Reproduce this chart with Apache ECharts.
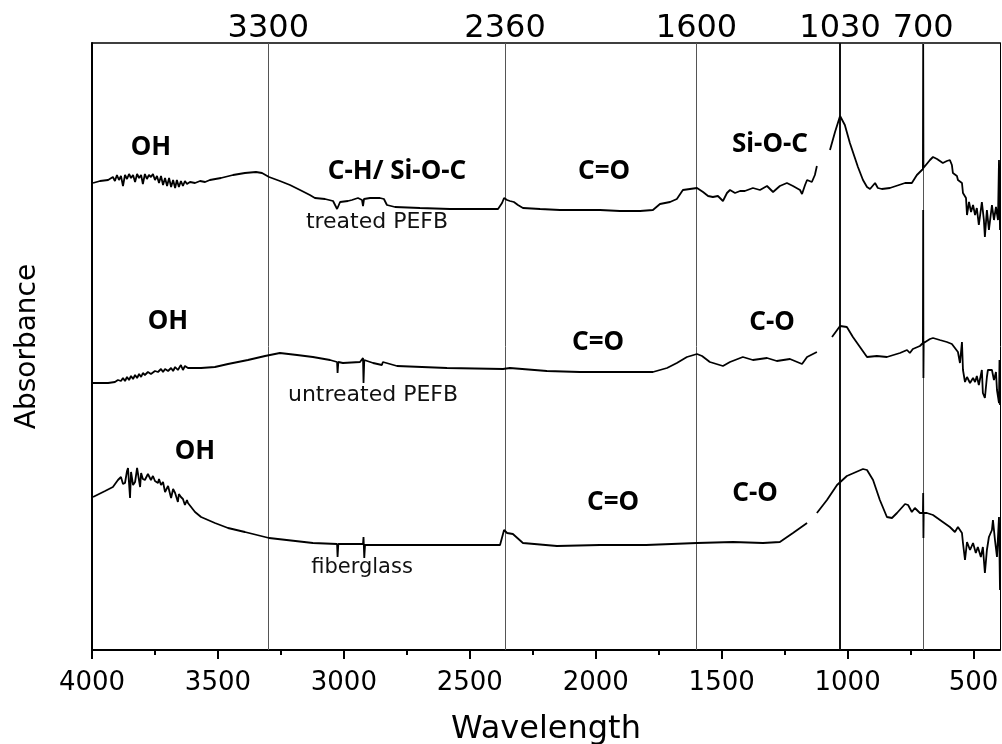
<!DOCTYPE html>
<html>
<head>
<meta charset="utf-8">
<script src="https://cdn.jsdelivr.net/npm/echarts@6/dist/echarts.min.js"></script>
<style>
  html, body { margin: 0; padding: 0; background: #fff; }
  #chart { width: 1002px; height: 744px; }
</style>
</head>
<body>
<div id="chart"></div>
<script>
// wavenumber (cm-1), absorbance (a.u., offset per sample)
const treatedData = [
  [3996,4.67],[3968,4.69],[3936,4.70],[3917,4.73],[3909,4.69],[3901,4.75],[3893,4.70],[3885,4.74],
  [3877,4.64],[3869,4.75],[3861,4.71],[3853,4.76],[3845,4.72],[3837,4.75],[3829,4.68],[3821,4.76],
  [3813,4.72],[3805,4.75],[3798,4.66],[3790,4.76],[3782,4.71],[3774,4.75],[3766,4.73],[3758,4.76],
  [3750,4.70],[3742,4.74],[3734,4.67],[3726,4.74],[3718,4.65],[3710,4.72],[3702,4.64],[3694,4.72],
  [3686,4.63],[3678,4.70],[3670,4.62],[3663,4.70],[3655,4.63],[3647,4.69],[3639,4.64],[3631,4.69],
  [3623,4.66],[3611,4.68],[3591,4.67],[3571,4.69],[3551,4.68],[3532,4.70],[3488,4.72],[3440,4.75],
  [3393,4.77],[3349,4.78],[3325,4.77],[3297,4.73],[3254,4.69],[3214,4.65],[3174,4.60],[3135,4.55],
  [3115,4.52],[3075,4.51],[3043,4.49],[3027,4.41],[3015,4.48],[2984,4.49],[2968,4.50],[2944,4.52],
  [2928,4.50],[2924,4.44],[2920,4.51],[2896,4.52],[2857,4.52],[2841,4.51],[2829,4.45],[2797,4.43],
  [2698,4.42],[2579,4.41],[2460,4.41],[2388,4.41],[2372,4.47],[2364,4.52],[2352,4.50],[2341,4.49],
  [2325,4.48],[2309,4.45],[2289,4.42],[2221,4.41],[2142,4.40],[2063,4.40],[1983,4.40],[1904,4.39],
  [1824,4.39],[1773,4.40],[1745,4.46],[1705,4.48],[1678,4.51],[1654,4.60],[1626,4.61],[1598,4.62],
  [1574,4.58],[1554,4.54],[1535,4.53],[1515,4.54],[1495,4.49],[1479,4.57],[1467,4.60],[1447,4.57],
  [1427,4.59],[1408,4.59],[1376,4.62],[1348,4.60],[1320,4.64],[1296,4.58],[1269,4.64],[1241,4.67],
  [1217,4.64],[1189,4.60],[1181,4.56],[1169,4.65],[1161,4.70],[1142,4.68],[1130,4.75],[1122,4.84],
  [1096,null],
  [1070,5.00],[1050,5.18],[1030,5.34],[1011,5.25],[991,5.07],[971,4.92],[959,4.83],[939,4.70],
  [923,4.63],[911,4.61],[891,4.67],[880,4.62],[864,4.61],[832,4.62],[772,4.67],[745,4.67],
  [725,4.75],[701,4.81],[700,6.06],[699,4.82],[693,4.83],[673,4.90],[661,4.93],[645,4.91],
  [622,4.87],[606,4.89],[594,4.90],[586,4.85],[582,4.77],[566,4.74],[562,4.70],[546,4.67],
  [542,4.57],[530,4.52],[526,4.35],[518,4.48],[510,4.38],[502,4.45],[494,4.35],[487,4.42],
  [479,4.25],[467,4.48],[459,4.30],[455,4.13],[447,4.40],[439,4.20],[427,4.45],[419,4.30],
  [411,4.43],[403,4.30],[399,4.90],[395,4.20]
];

const untreatedData = [
  [3996,2.67],[3936,2.67],[3909,2.68],[3897,2.70],[3885,2.69],[3877,2.72],[3869,2.69],[3861,2.73],
  [3853,2.70],[3845,2.74],[3837,2.71],[3829,2.75],[3821,2.72],[3813,2.76],[3805,2.73],[3798,2.77],
  [3790,2.75],[3778,2.78],[3766,2.76],[3750,2.79],[3738,2.78],[3726,2.81],[3718,2.78],[3710,2.81],
  [3698,2.79],[3686,2.82],[3678,2.79],[3670,2.83],[3659,2.80],[3647,2.85],[3639,2.80],[3631,2.84],
  [3619,2.82],[3567,2.82],[3512,2.83],[3460,2.86],[3381,2.90],[3313,2.94],[3254,2.97],[3186,2.95],
  [3123,2.93],[3055,2.90],[3027,2.88],[3025,2.77],[3022,2.88],[3004,2.87],[2936,2.88],[2924,2.92],
  [2922,2.67],[2919,2.90],[2884,2.87],[2849,2.85],[2845,2.88],[2789,2.84],[2591,2.82],[2368,2.81],
  [2341,2.82],[2194,2.79],[2063,2.78],[1773,2.78],[1717,2.82],[1678,2.87],[1638,2.93],[1598,2.96],
  [1578,2.94],[1547,2.88],[1495,2.84],[1467,2.88],[1416,2.93],[1376,2.90],[1320,2.92],[1281,2.89],
  [1229,2.91],[1181,2.86],[1161,2.93],[1122,2.98],
  [1092,null],
  [1062,3.13],[1030,3.24],[1003,3.23],[979,3.13],[951,3.03],[923,2.93],[884,2.94],[844,2.93],
  [792,2.97],[764,3.00],[753,2.97],[741,3.01],[713,3.04],[701,3.07],[700,4.40],[699,2.72],
  [698,3.07],[673,3.11],[661,3.12],[634,3.10],[606,3.08],[586,3.06],[574,3.02],[562,2.98],
  [554,2.87],[546,3.08],[542,2.80],[534,2.68],[526,2.73],[514,2.67],[502,2.72],[494,2.68],
  [487,2.74],[479,2.65],[467,2.80],[463,2.57],[455,2.52],[447,2.73],[443,2.80],[427,2.80],
  [419,2.70],[411,2.78],[407,2.60],[399,2.47],[397,2.90],[395,2.45]
];

const fiberglassData = [
  [3996,1.53],[3948,1.59],[3917,1.63],[3897,1.70],[3885,1.73],[3877,1.66],[3869,1.67],[3861,1.79],
  [3857,1.82],[3849,1.52],[3845,1.78],[3837,1.65],[3829,1.68],[3821,1.82],[3817,1.80],[3809,1.63],
  [3805,1.77],[3798,1.71],[3790,1.70],[3778,1.76],[3766,1.70],[3758,1.74],[3750,1.69],[3738,1.67],
  [3734,1.71],[3726,1.65],[3718,1.68],[3710,1.58],[3698,1.64],[3686,1.52],[3678,1.61],[3670,1.57],
  [3663,1.59],[3659,1.48],[3655,1.56],[3647,1.53],[3639,1.51],[3631,1.45],[3623,1.50],[3619,1.47],
  [3591,1.38],[3567,1.33],[3512,1.27],[3460,1.22],[3393,1.18],[3297,1.12],[3123,1.07],[3027,1.06],
  [3025,0.93],[3022,1.06],[2924,1.06],[2922,1.13],[2919,0.92],[2916,1.05],[2857,1.05],[2380,1.05],
  [2364,1.20],[2352,1.17],[2329,1.16],[2289,1.07],[2154,1.04],[1983,1.05],[1800,1.05],[1598,1.07],
  [1455,1.08],[1336,1.07],[1269,1.08],[1217,1.17],[1161,1.27],
  [1142,null],
  [1122,1.37],[1082,1.50],[1042,1.65],[1003,1.74],[939,1.81],[923,1.80],[899,1.70],[872,1.50],
  [844,1.33],[824,1.32],[804,1.37],[772,1.46],[760,1.45],[745,1.38],[733,1.42],[713,1.37],
  [701,1.37],[700,1.57],[699,1.12],[698,1.37],[685,1.37],[661,1.35],[622,1.28],[594,1.23],
  [574,1.18],[562,1.23],[546,1.17],[542,1.07],[534,0.90],[526,1.08],[514,1.00],[502,1.07],
  [491,0.97],[483,1.03],[471,0.93],[463,1.03],[455,0.77],[447,1.00],[439,1.13],[427,1.20],
  [423,1.30],[415,1.10],[407,0.93],[399,1.33],[395,0.60]
];

const bottomTicks = [4000, 3500, 3000, 2500, 2000, 1500, 1000, 500];
const minorTicks = [3750, 3250, 2750, 2250, 1750, 1250, 750];
const peakLines = [3300, 2360, 1600, 1030, 700];

const chart = echarts.init(document.getElementById('chart'));

const xBase = {
  type: 'value',
  min: 395,
  max: 4000,
  inverse: true,
  splitLine: { show: false }
};

const lineStyle = { color: '#000', width: 1.8 };

const option = {
  backgroundColor: '#fff',
  animation: false,
  grid: { left: 92, right: 2, top: 43, bottom: 94, outerBoundsMode: 'none' },
  xAxis: [
    Object.assign({}, xBase, {
      position: 'bottom',
      name: 'Wavelength',
      nameLocation: 'middle',
      nameGap: 64,
      nameTextStyle: { fontFamily: 'DejaVu Sans', fontSize: 32, color: '#000' },
      axisLine: { lineStyle: { color: '#000', width: 2 } },
      axisTick: { customValues: bottomTicks, length: 9, lineStyle: { color: '#000', width: 2 } },
      axisLabel: {
        customValues: bottomTicks, margin: 20, formatter: v => String(v),
        fontFamily: 'DejaVu Sans', fontSize: 26, color: '#000'
      }
    }),
    Object.assign({}, xBase, {
      position: 'bottom',
      axisLine: { show: false },
      axisTick: { customValues: minorTicks, length: 5, lineStyle: { color: '#000', width: 2 } },
      axisLabel: { show: false }
    }),
    Object.assign({}, xBase, {
      position: 'top',
      axisLine: { lineStyle: { color: '#000', width: 1.5 } },
      axisTick: { show: false },
      axisLabel: {
        customValues: peakLines, margin: -2, formatter: v => String(v),
        fontFamily: 'DejaVu Sans', fontSize: 32, color: '#000'
      }
    })
  ],
  yAxis: [
    {
      type: 'value',
      min: 0,
      max: 6.07,
      name: 'Absorbance',
      nameLocation: 'middle',
      nameGap: 50,
      nameTextStyle: { fontFamily: 'DejaVu Sans', fontSize: 28, color: '#000' },
      axisLine: { show: true, lineStyle: { color: '#000', width: 2 } },
      axisTick: { show: false },
      axisLabel: { show: false },
      splitLine: { show: false }
    },
    {
      type: 'value',
      min: 0,
      max: 6.07,
      position: 'right',
      axisLine: { show: true, lineStyle: { color: '#000', width: 1 } },
      axisTick: { show: false },
      axisLabel: { show: false },
      splitLine: { show: false }
    }
  ],
  series: [
    {
      name: 'treated PEFB',
      type: 'line',
      data: treatedData,
      showSymbol: false,
      lineStyle: lineStyle,
      z: 3,
      markLine: {
        silent: true,
        symbol: 'none',
        z: 1,
        label: { show: false },
        data: peakLines.map(v => ({
          xAxis: v,
          lineStyle: v === 1030
            ? { color: '#111', width: 2, type: 'solid' }
            : { color: '#555', width: 1, type: 'solid' }
        }))
      }
    },
    { name: 'untreated PEFB', type: 'line', data: untreatedData, showSymbol: false, lineStyle: lineStyle, z: 3 },
    { name: 'fiberglass', type: 'line', data: fiberglassData, showSymbol: false, lineStyle: lineStyle, z: 3 }
  ],
  graphic: [
    // band assignments
    ['OH', 151, 148], ['C-H/ Si-O-C', 397, 172], ['C=O', 604, 172], ['Si-O-C', 770, 145],
    ['OH', 168, 322], ['C=O', 598, 343], ['C-O', 772, 323],
    ['OH', 195, 452], ['C=O', 613, 503], ['C-O', 755, 494]
  ].map(t => ({
    type: 'text', x: t[1], y: t[2],
    style: { text: t[0], fill: '#000', font: 'bold 26px "Noto Sans"', textAlign: 'center', textVerticalAlign: 'middle' }
  })).concat([
    ['treated PEFB', 377, 222, 22], ['untreated PEFB', 373, 395, 22], ['fiberglass', 362, 568, 21]
  ].map(t => ({
    type: 'text', x: t[1], y: t[2],
    style: { text: t[0], fill: '#111', font: t[3] + 'px "DejaVu Sans"', textAlign: 'center', textVerticalAlign: 'middle' }
  })))
};

chart.setOption(option);
</script>
</body>
</html>
